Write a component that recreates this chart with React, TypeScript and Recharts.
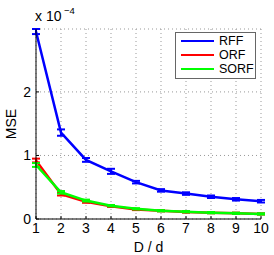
import { CartesianGrid, ErrorBar, Line, LineChart, XAxis, YAxis, Label } from "recharts";

// D / d ratio
const ratios = [1, 2, 3, 4, 5, 6, 7, 8, 9, 10];
// MSE values in units of 1e-4
const rffMse = [2.95, 1.36, 0.93, 0.75, 0.58, 0.45, 0.4, 0.35, 0.31, 0.28];
const rffErr = [0.04, 0.05, 0.03, 0.04, 0.02, 0.02, 0.02, 0.02, 0.02, 0.02];
const orfMse = [0.92, 0.39, 0.27, 0.2, 0.15, 0.13, 0.11, 0.1, 0.09, 0.08];
const orfErr = [0.03, 0.02, 0.015, 0.01, 0.01, 0.01, 0.01, 0.01, 0.01, 0.01];
const sorfMse = [0.85, 0.42, 0.29, 0.21, 0.16, 0.13, 0.115, 0.1, 0.09, 0.08];
const sorfErr = [0.03, 0.02, 0.015, 0.01, 0.01, 0.01, 0.01, 0.01, 0.01, 0.01];
const xTicks = [1, 2, 3, 4, 5, 6, 7, 8, 9, 10];
const yTicks = [0, 1, 2];

const series = [
  { key: "rff", name: "RFF", color: "#0000ff" },
  { key: "orf", name: "ORF", color: "#ff0000" },
  { key: "sorf", name: "SORF", color: "#00ff00" },
];

const data = ratios.map((r, i) => ({
  r,
  rff: rffMse[i],
  rffE: rffErr[i],
  orf: orfMse[i],
  orfE: orfErr[i],
  sorf: sorfMse[i],
  sorfE: sorfErr[i],
}));

const font = "'Liberation Sans', Arial, sans-serif";
const txt = { fontSize: 14, fill: "#000", fontFamily: font };

function LegendBox() {
  return (
    <div
      style={{
        position: "absolute",
        left: 175,
        top: 32,
        width: 81,
        height: 47,
        boxSizing: "border-box",
        border: "1.5px solid #666",
        background: "#fff",
        padding: "1px 0 0 5px",
        fontFamily: font,
        fontSize: 12.5,
      }}
    >
      {series.map((s) => (
        <div key={s.key} style={{ display: "flex", alignItems: "center", height: 14 }}>
          <span style={{ width: 33, height: 2.5, background: s.color, marginRight: 5 }} />
          <span>{s.name}</span>
        </div>
      ))}
    </div>
  );
}

export default function App() {
  return (
    <div style={{ position: "absolute", left: 0, top: 0, width: 274, height: 255, background: "#fff" }}>
      <LineChart width={274} height={255} data={data} margin={{ top: 29, right: 13, left: 0, bottom: 0 }}>
        <CartesianGrid stroke="#999" strokeDasharray="1 3" horizontal vertical />
        <XAxis
          dataKey="r"
          type="number"
          domain={[1, 10]}
          ticks={xTicks}
          tick={txt}
          tickLine={{ stroke: "#000" }}
          tickSize={-3}
          tickMargin={7}
          axisLine={{ stroke: "#000" }}
          height={36}
        >
          <Label value="D / d" position="insideBottom" offset={3} style={txt} />
        </XAxis>
        <YAxis
          type="number"
          domain={[0, 2.97]}
          ticks={yTicks}
          tick={txt}
          tickLine={{ stroke: "#000" }}
          tickSize={-3}
          tickMargin={8}
          axisLine={{ stroke: "#000" }}
          width={36}
        >
          <Label value="MSE" angle={-90} position="insideLeft" offset={11} style={{ ...txt, textAnchor: "middle" }} />
        </YAxis>
        {series.map((s) => (
          <Line
            key={s.key}
            type="linear"
            dataKey={s.key}
            name={s.name}
            stroke={s.color}
            strokeWidth={2.5}
            dot={false}
            isAnimationActive={false}
          >
            <ErrorBar dataKey={`${s.key}E`} width={4} stroke={s.color} strokeWidth={2} direction="y" />
          </Line>
        ))}
        <text x={35} y={21} fontSize={14} fontFamily={font} fill="#000">
          x 10
        </text>
        <text x={64} y={14} fontSize={9.5} fontFamily={font} fill="#000">
          −4
        </text>
      </LineChart>
      <LegendBox />
    </div>
  );
}
